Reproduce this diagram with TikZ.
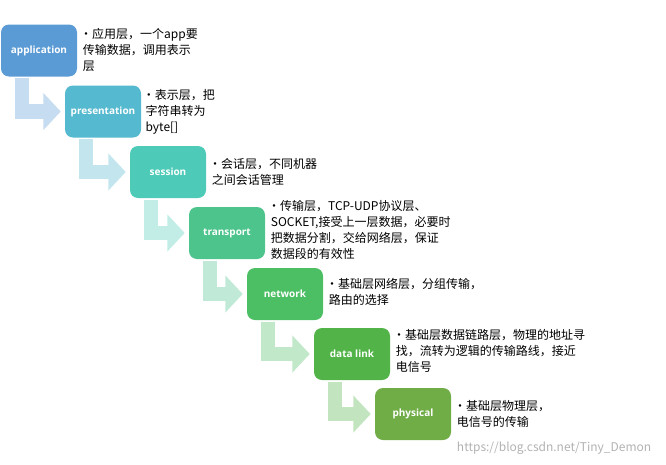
\documentclass[tikz,border=0pt]{standalone}
\usepackage{fontspec}
\setmainfont{Noto Sans CJK SC}
\newfontfamily\boxfont{Open Sans}
\usetikzlibrary{arrows.meta}
\definecolor{cApp}{RGB}{91,155,213}
\definecolor{cPre}{RGB}{85,185,207}
\definecolor{cSes}{RGB}{78,203,184}
\definecolor{cTra}{RGB}{76,196,140}
\definecolor{cNet}{RGB}{76,190,100}
\definecolor{cDat}{RGB}{82,180,72}
\definecolor{cPhy}{RGB}{112,173,71}

\begin{document}
\begin{tikzpicture}[x=0.75pt,y=0.75pt,yscale=-1,xscale=1,
  layer/.style={rounded corners=6pt, minimum width=57pt, minimum height=39pt,
    inner sep=0pt, text=white, font={\boxfont\bfseries\fontsize{7.5}{9}\selectfont}},
  note/.style={anchor=north west, align=left, inner sep=0pt,
    font={\fontsize{9}{12}\selectfont}},
  bentarrow/.style={line width=11pt, shorten >=3pt,
    -{Triangle[width=27pt,length=13pt]}}]
\useasboundingbox (0,0) rectangle (666,464);
%Layers
\node [layer, fill=cApp] (app) at (39,50.5) {application};
\node [layer, fill=cPre] (pre) at (103,111.5) {presentation};
\node [layer, fill=cSes] (ses) at (168,172) {session};
\node [layer, fill=cTra] (tra) at (227,233) {transport};
\node [layer, fill=cNet] (net) at (285,294) {network};
\node [layer, fill=cDat] (dat) at (352,354) {data link};
\node [layer, fill=cPhy] (phy) at (413,414) {physical};
%Bent arrows
\foreach \a/\b/\c in {app/pre/cApp, pre/ses/cPre, ses/tra/cSes, tra/net/cTra, net/dat/cNet, dat/phy/cDat}
  \draw [bentarrow, draw=\c!35] ([xshift=16,yshift=1]\a.south west) |- (\b.west);
%Notes
\node [note] (tapp) at ([xshift=2,yshift=3]app.north east) {•应用层，一个app要\\ \ 传输数据，调用表示\\ \ 层};
\node [note] (tpre) at ([xshift=1,yshift=3]pre.north east) {•表示层，把\\ \ 字符串转为\\ \ byte[]};
\node [note] (tses) at ([xshift=2,yshift=9]ses.north east) {•会话层，不同机器\\ \ 之间会话管理};
\node [note] (ttra) at ([xshift=2,yshift=-5]tra.north east) {•传输层，TCP-UDP协议层、\\ \ SOCKET,接受上一层数据，必要时\\ \ 把数据分割，交给网络层，保证\\ \ 数据段的有效性};
\node [note] (tnet) at ([xshift=2,yshift=8]net.north east) {•基础层网络层，分组传输，\\ \ 路由的选择};
\node [note] (tdat) at ([xshift=2,yshift=1]dat.north east) {•基础层数据链路层，物理的地址寻\\ \ 找，流转为逻辑的传输路线，接近\\ \ 电信号};
\node [note] (tphy) at ([xshift=2,yshift=9]phy.north east) {•基础层物理层，\\ \ 电信号的传输};
%Watermark
\node [anchor=east, text=black!30, font={\fontsize{9}{10}\selectfont}] (mark) at (656,448) {https://blog.csdn.net/Tiny\_Demon};
\end{tikzpicture}
\end{document}
